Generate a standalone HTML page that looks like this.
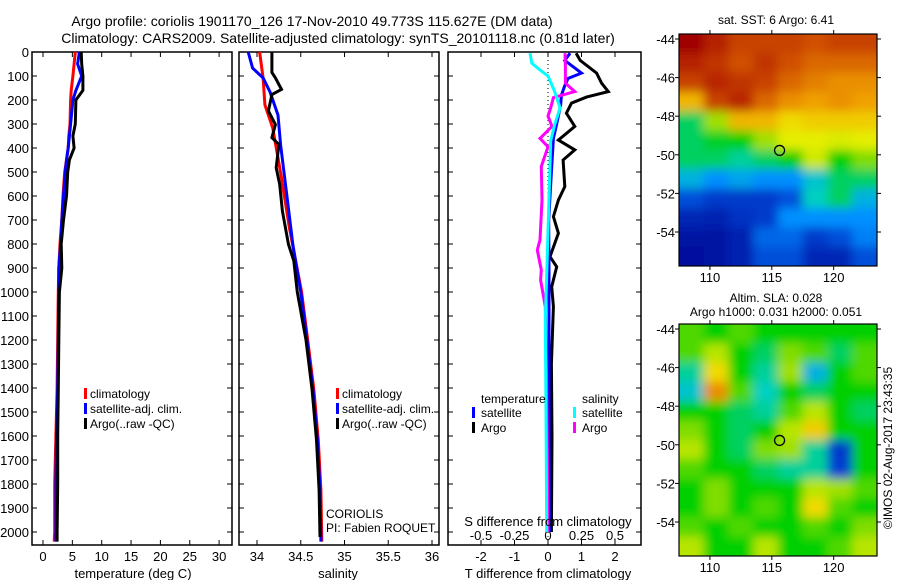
<!DOCTYPE html>
<html><head><meta charset="utf-8"><style>
body{margin:0;background:#fff;}
svg{display:block;font-family:"Liberation Sans",sans-serif;}
</style></head><body>
<svg id="c" width="900" height="580">
<text x="312" y="26" font-size="14" text-anchor="middle">Argo profile: coriolis 1901170_126 17-Nov-2010 49.773S 115.627E (DM data)</text>
<text x="338" y="43" font-size="14" text-anchor="middle">Climatology: CARS2009. Satellite-adjusted climatology: synTS_20101118.nc (0.81d later)</text>
</svg>
<script>
// ---- data ----
const tDepth=[0,50,100,160,200,300,350,400,450,500,600,700,800,900,1000,1200,1400,1600,1800,2000,2040];
const tClim=[5.5,5.3,5.1,4.8,4.7,4.6,4.4,4.3,4.0,3.7,3.4,3.2,2.9,2.7,2.6,2.5,2.4,2.2,2.0,2.0,1.9];
const tSat=[6.2,5.9,6.6,5.6,5.1,4.7,4.5,4.3,4.0,3.8,3.5,3.2,3.0,2.7,2.7,2.6,2.5,2.3,2.2,2.2,2.2];
const tArgo=[6.5,6.6,6.8,6.8,5.6,5.5,5.1,5.3,4.5,4.2,4.0,3.5,3.1,3.2,2.8,2.7,2.6,2.5,2.5,2.4,2.4];
const sDepthC=[0,108,220,317,525,733,1000,1200,1408,1617,1825,2040];
const sClim=[34.03,34.07,34.09,34.18,34.28,34.37,34.51,34.58,34.65,34.70,34.73,34.74];
const sDepthS=[0,67,108,167,263,387,596,804,1000,1200,1408,1617,1825,2040];
const sSat=[33.90,33.95,34.07,34.15,34.24,34.27,34.34,34.41,34.50,34.57,34.64,34.69,34.72,34.73];
const sDepthA=[0,30,85,108,156,177,246,302,357,385,482,552,663,802,870,1000,1200,1408,1617,1825,2021];
const sArgo=[34.17,34.17,34.17,34.21,34.28,34.17,34.13,34.21,34.17,34.25,34.22,34.26,34.29,34.36,34.42,34.46,34.56,34.63,34.68,34.71,34.72];
const dDepthT=[5,35,88,130,165,188,213,255,310,367,408,450,561,617,686,755,853,895,978,1061,1300,1600,2000];
const dTArgo=[0.84,0.96,1.45,1.6,1.8,1.15,0.7,0.55,0.8,0.31,0.8,0.45,0.5,0.31,0.16,0.31,0.06,0.26,0.11,0.16,0.1,0.12,0.1];
const dDepthB=[5,35,88,110,140,180,220,300,360,500,700,900,1200,1600,2000];
const dTSat=[0.66,0.5,1.0,0.6,0.5,0.4,0.38,0.26,0.16,0.1,0.02,0.03,0.03,0.03,0.04];
const dDepthC=[5,47,75,100,165,233,302,370,650,930,1110,1500,2000];
const dSSat=[-0.134,-0.12,-0.06,0,0.05,0.09,0.05,0.02,0.005,-0.01,-0.02,-0.015,-0.01];
const dDepthM=[5,60,130,165,190,233,267,310,360,395,477,617,783,825,908,950,1061,1400,2000];
const dSArgo=[0.127,0.13,0.13,0.2,0.04,0.02,0,0.03,-0.06,0,-0.05,-0.045,-0.06,-0.08,-0.05,-0.055,-0.02,-0.01,0];
const depthTicks=[0,100,200,300,400,500,600,700,800,900,1000,1100,1200,1300,1400,1500,1600,1700,1800,1900,2000];
const tTicks=[0,5,10,15,20,25,30];
const sTicks=[34,34.5,35,35.5,36];
const dtTicks=[-2,-1,0,1,2];
const dsTicks=[-0.5,-0.25,0,0.25,0.5];
const sstGrid=[
[1,.95,.9,.9,.9,.88,.9,.9],[.95,.92,.88,.92,.88,.85,.85,.85],[.9,.94,.92,.9,.85,.82,.8,.8],
[.75,.9,.94,.85,.8,.78,.8,.78],[.45,.6,.75,.75,.7,.72,.72,.72],[.45,.48,.5,.6,.66,.66,.65,.66],
[.45,.45,.42,.45,.5,.64,.5,.58],[.35,.3,.33,.3,.3,.38,.45,.45],[.22,.18,.18,.18,.22,.4,.45,.35],
[.12,.1,.16,.18,.3,.3,.3,.3],[.06,.06,.1,.25,.25,.18,.22,.28],[.04,.06,.1,.22,.22,.12,.12,.22]];
const slaGrid=[
[.55,.5,.55,.5,.5,.5,.5,.5],[.55,.62,.5,.45,.58,.55,.45,.55],[.42,.7,.5,.42,.6,.35,.5,.55],
[.38,.8,.55,.4,.5,.45,.5,.5],[.5,.5,.45,.42,.55,.62,.5,.45],[.58,.5,.45,.5,.62,.72,.5,.5],
[.62,.5,.45,.58,.6,.42,.18,.5],[.55,.5,.5,.45,.42,.42,.2,.5],[.5,.58,.5,.5,.5,.62,.6,.55],
[.5,.58,.5,.55,.5,.7,.55,.5],[.55,.5,.55,.5,.5,.55,.5,.58],[.62,.5,.5,.62,.5,.5,.55,.62]];
const lonTicks=[110,115,120];
const latTicks=[-44,-46,-48,-50,-52,-54];

const svg=document.getElementById('c');
const NS='http://www.w3.org/2000/svg';
function mk(tag,at,parent){const e=document.createElementNS(NS,tag);for(const k in at)e.setAttribute(k,at[k]);(parent||svg).appendChild(e);return e;}
function txt(x,y,s,anchor,size){const e=mk('text',{x:x,y:y,'font-size':size||13,'text-anchor':anchor||'middle'});e.textContent=s;return e;}
const yD=d=>52+d*0.24;
const xT=v=>43+v*5.87;
const xS=v=>257+(v-34)*87.5;
const xDT=v=>548+v*33.5;
const xDS=v=>548+v*134;
const TOP=52,BOT=545;

function frame(x0,x1,name){
  const r=mk('rect',{x:x0,y:TOP,width:x1-x0,height:BOT-TOP,fill:'none',stroke:'#000','stroke-width':1.5});
  
  
  depthTicks.forEach(d=>{mk('line',{x1:x0,x2:x0+5,y1:yD(d),y2:yD(d),stroke:'#000'});mk('line',{x1:x1-5,x2:x1,y1:yD(d),y2:yD(d),stroke:'#000'});});
}
function xtick(x){mk('line',{x1:x,x2:x,y1:TOP,y2:TOP+5,stroke:'#000'});mk('line',{x1:x,x2:x,y1:BOT-5,y2:BOT,stroke:'#000'});}
function line(xs,ds,xf,color,name){
  const pts=xs.map((v,i)=>xf(v).toFixed(1)+','+yD(ds[i]).toFixed(1)).join(' ');
  const p=mk('polyline',{points:pts,fill:'none',stroke:color,'stroke-width':3,'stroke-linejoin':'miter'});
  
  
}
depthTicks.forEach(d=>{const t=txt(29,yD(d)+5,String(d),'end');});
// panel 1
frame(32,232,'temperature-panel');
tTicks.forEach(v=>{xtick(xT(v));const t=txt(xT(v),561,String(v));});
line(tClim,tDepth,xT,'#f00','temperature-climatology-line');
line(tSat,tDepth,xT,'#00f','temperature-satellite-line');
line(tArgo,tDepth,xT,'#000','temperature-argo-line');
let t=txt(133,578,'temperature (deg C)');
// panel 2
frame(239,439,'salinity-panel');
sTicks.forEach(v=>{xtick(xS(v));const t=txt(xS(v),561,String(v));});
line(sClim,sDepthC,xS,'#f00','salinity-climatology-line');
line(sSat,sDepthS,xS,'#00f','salinity-satellite-line');
line(sArgo,sDepthA,xS,'#000','salinity-argo-line');
t=txt(338,578,'salinity');
t=txt(326,518,'CORIOLIS','start',12);
t=txt(326,532,'PI: Fabien ROQUET','start',12);
[[84,'temperature'],[336,'salinity']].forEach(([lx,nm])=>{
  [['#f00','climatology',398],['#00f','satellite-adj. clim.',413],['#000','Argo(..raw -QC)',428]].forEach(([c,s,y])=>{
    mk('rect',{x:lx,y:y-10,width:3,height:11,fill:c});
    const e=txt(lx+6,y,s,'start',12);
    
    
  });
});
// panel 3
frame(448,641,'difference-panel');
mk('line',{x1:548,x2:548,y1:TOP,y2:BOT,stroke:'#000','stroke-dasharray':'1,3'});
dtTicks.forEach(v=>{mk('line',{x1:xDT(v),x2:xDT(v),y1:TOP,y2:TOP+5,stroke:'#000'});mk('line',{x1:xDT(v),x2:xDT(v),y1:BOT-5,y2:BOT,stroke:'#000'});const t=txt(xDT(v),561,String(v));});
dsTicks.forEach(v=>{const t=txt(xDS(v),540,String(v));});
line(dTArgo,dDepthT,xDT,'#000','t-diff-argo-line');
line(dTSat,dDepthB,xDT,'#00f','t-diff-satellite-line');
line(dSArgo,dDepthM,xDS,'#f0f','s-diff-argo-line');
line(dSSat,dDepthC,xDS,'#0ff','s-diff-satellite-line');
t=txt(548,526,'S difference from climatology');
t=txt(548,578,'T difference from climatology');
t=txt(481,403,'temperature','start',12);
t=txt(582,403,'salinity','start',12);
[[472,'#00f','satellite',417],[472,'#000','Argo',432],[573,'#0ff','satellite',417],[573,'#f0f','Argo',432]].forEach(([lx,c,s,y])=>{
  mk('rect',{x:lx,y:y-10,width:3,height:11,fill:c});
  const e=txt(lx+9,y,s,'start',12);
  
  
});
// maps
const stops=[[0,[0,0,144]],[.2,[0,64,208]],[.3,[0,144,255]],[.4,[0,208,192]],[.5,[0,208,0]],[.6,[160,224,0]],[.67,[240,240,0]],[.78,[240,160,0]],[.88,[208,80,0]],[1,[160,0,0]]];
function cmap(v){for(let i=1;i<stops.length;i++){if(v<=stops[i][0]){const a=stops[i-1],b=stops[i],f=(v-a[0])/(b[0]-a[0]);return 'rgb('+a[1].map((c,k)=>Math.round(c+(b[1][k]-c)*f)).join(',')+')';}}return 'rgb(160,0,0)';}
const defs=mk('defs',{});
const flt=mk('filter',{id:'bl',x:'-10%',y:'-10%',width:'120%',height:'120%'},defs);
mk('feGaussianBlur',{stdDeviation:5},flt);
const MX0=679,MX1=877,MW=198;
const xLon=l=>MX0+(l-107.5)*12.375;
function map(grid,y0,y1,lat44,name){
  const cp=mk('clipPath',{id:'cp'+name},defs);
  mk('rect',{x:MX0,y:y0,width:MW,height:y1-y0},cp);
  const g=mk('g',{'clip-path':'url(#cp'+name+')'});
  
  
  const g2=mk('g',{filter:'url(#bl)'},g);
  const rows=grid.length,cols=grid[0].length,cw=MW/cols,rh=(y1-y0)/rows;
  grid.forEach((r,i)=>r.forEach((v,j)=>mk('rect',{x:MX0+j*cw-(j==0?20:0),y:y0+i*rh-(i==0?20:0),width:cw+1+(j==0||j==cols-1?20:0),height:rh+1+(i==0||i==rows-1?20:0),fill:cmap(v)},g2)));
  mk('rect',{x:MX0,y:y0,width:MW,height:y1-y0,fill:'none',stroke:'#000','stroke-width':1.2});
  const pd=lat=>lat44+(-44-lat)*19.3;
  latTicks.forEach(l=>{mk('line',{x1:MX0-4,x2:MX0,y1:pd(l),y2:pd(l),stroke:'#000'});mk('line',{x1:MX1,x2:MX1+4,y1:pd(l),y2:pd(l),stroke:'#000'});const e=txt(675,pd(l)+5,String(l),'end');});
  lonTicks.forEach(l=>{mk('line',{x1:xLon(l),x2:xLon(l),y1:y0-4,y2:y0,stroke:'#000'});mk('line',{x1:xLon(l),x2:xLon(l),y1:y1,y2:y1+4,stroke:'#000'});const e=txt(xLon(l),y1+16,String(l));});
  const c=mk('circle',{cx:xLon(115.627),cy:pd(-49.773),r:5,fill:'none',stroke:'#000','stroke-width':1.3});
  
  
}
map(sstGrid,34,266,39,'sst-map');
map(slaGrid,324,556,329,'sla-map');
t=txt(776,24,'sat. SST: 6 Argo: 6.41','middle',12);
t=txt(776,302,'Altim. SLA: 0.028','middle',12);
t=txt(776,316,'Argo h1000: 0.031 h2000: 0.051','middle',12);
t=txt(0,0,'©IMOS 02-Aug-2017 23:43:35','middle',12);t.setAttribute('transform','translate(892,448) rotate(-90)');


</script>
</body></html>
